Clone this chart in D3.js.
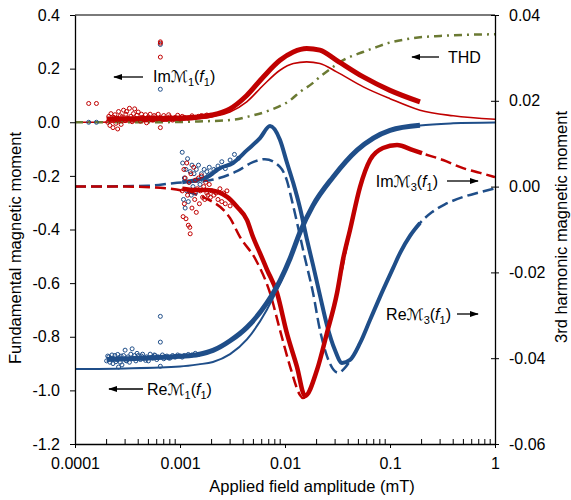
<!DOCTYPE html>
<html><head><meta charset="utf-8">
<script src="https://cdn.jsdelivr.net/npm/d3@7/dist/d3.min.js"></script>
<style>
body{margin:0;background:#fff}
text{font-family:"Liberation Sans",Arial,sans-serif;fill:#000}
</style></head>
<body><svg id="chart" width="571" height="500"></svg>
<script>
// ---------- tick labels ----------
const xTicks = [0.0001, 0.001, 0.01, 0.1, 1];
const xTickLabels = ["0.0001", "0.001", "0.01", "0.1", "1"];
const leftTicks = [0.4, 0.2, 0.0, -0.2, -0.4, -0.6, -0.8, -1.0, -1.2];
const leftTickLabels = ["0.4", "0.2", "0.0", "-0.2", "-0.4", "-0.6", "-0.8", "-1.0", "-1.2"];
const rightTicks = [0.04, 0.02, 0.0, -0.02, -0.04, -0.06];
const rightTickLabels = ["0.04", "0.02", "0.00", "-0.02", "-0.04", "-0.06"];

// ---------- fundamental (left axis) : [field mT, value] ----------
const imM1MeasScatter = [
 [0.000135,0.07],[0.00016,0.07],
 [0.000205,0.0],[0.00021,0.022],[0.000215,-0.012],[0.00022,0.032],[0.000225,0.008],[0.00023,-0.02],
 [0.000235,0.018],[0.00024,0.028],[0.000245,-0.004],[0.00025,0.015],[0.000255,-0.025],[0.00026,0.04],
 [0.000265,0.01],[0.00027,0.024],[0.000275,-0.008],[0.00028,0.02],[0.00029,0.045],[0.0003,0.006],
 [0.000305,0.03],[0.00031,0.04],[0.00032,0.014],[0.00033,0.052],[0.00034,0.022],[0.00035,0.002],
 [0.00036,0.032],[0.00037,0.05],[0.00038,0.012],[0.00039,0.026],[0.0004,0.038],[0.00042,0.004],
 [0.00043,0.03],[0.00044,0.018],[0.00046,0.014],[0.00047,0.028],[0.00048,-0.002],[0.0005,0.02],
 [0.00052,0.03],[0.00053,0.01],[0.00055,0.008],[0.00057,0.025],[0.00058,0.02],[0.0006,0.012],
 [0.00062,0.03],[0.00065,0.018],[0.00065,-0.02],[0.00065,0.3],[0.00065,0.295],[0.00065,0.243],
 [0.00068,0.01],[0.0007,0.025],[0.00072,0.016],[0.00075,0.012],[0.00078,0.028],[0.0008,0.02],
 [0.00085,0.008],[0.0009,0.018],[0.00095,0.026],[0.001,0.012],[0.00105,0.022],[0.0011,0.018],
 [0.0012,0.015],[0.0013,0.024],[0.0014,0.018],[0.0015,0.022],[0.0016,0.025],[0.0018,0.027]
];
const imM1Meas = [
 [0.0002,0.012],[0.0005,0.014],[0.001,0.016],[0.0015,0.02],[0.002,0.027],[0.00299,0.05],
 [0.00432,0.1],[0.00621,0.169],[0.00895,0.231],[0.012,0.262],[0.0161,0.275],[0.0215,0.269],
 [0.031,0.231],[0.0557,0.169],[0.1,0.119],[0.193,0.076]
];
const imM1Model = [
 [0.0001,0.0],[0.0005,0.003],[0.001,0.007],[0.002,0.02],[0.00299,0.038],[0.00432,0.076],
 [0.00621,0.138],[0.00895,0.194],[0.012,0.219],[0.0161,0.225],[0.0215,0.219],[0.031,0.188],
 [0.0557,0.132],[0.1,0.088],[0.193,0.045],[0.4,0.024],[1,0.011]
];
const reM1MeasScatter = [
 [0.000135,0.0],[0.00016,0.0],
 [0.0002,-0.89],[0.000205,-0.872],[0.00021,-0.875],[0.000215,-0.895],[0.00022,-0.88],[0.000225,-0.868],
 [0.00023,-0.9],[0.000235,-0.882],[0.00024,-0.87],[0.000245,-0.893],[0.00025,-0.885],[0.000255,-0.866],
 [0.00026,-0.913],[0.000265,-0.878],[0.00027,-0.895],[0.000275,-0.872],[0.00028,-0.905],[0.00029,-0.87],
 [0.0003,-0.85],[0.000305,-0.888],[0.00031,-0.89],[0.00032,-0.875],[0.00033,-0.895],[0.00034,-0.865],
 [0.00035,-0.845],[0.00036,-0.88],[0.00037,-0.87],[0.00038,-0.89],[0.00039,-0.862],[0.0004,-0.87],
 [0.00042,-0.885],[0.00043,-0.872],[0.00044,-0.865],[0.00046,-0.88],[0.00047,-0.888],[0.00048,-0.875],
 [0.0005,-0.89],[0.00052,-0.865],[0.00053,-0.878],[0.00055,-0.88],[0.00057,-0.868],[0.00058,-0.87],
 [0.0006,-0.885],[0.00062,-0.875],[0.00065,-0.91],[0.00065,0.29],[0.00065,0.123],[0.00065,-0.724],
 [0.00065,-0.82],[0.00068,-0.868],[0.0007,-0.882],[0.00072,-0.874],[0.00075,-0.872],[0.00078,-0.879],
 [0.0008,-0.88],[0.00085,-0.87],[0.0009,-0.876],[0.00095,-0.868],[0.001,-0.872],[0.00105,-0.876],
 [0.0011,-0.87],[0.0012,-0.866],[0.0013,-0.868],[0.0014,-0.862],[0.0015,-0.866]
];
const reM1Meas = [
 [0.0002,-0.885],[0.0005,-0.879],[0.001,-0.873],[0.0015,-0.866],[0.00206,-0.851],[0.003,-0.815],
 [0.00434,-0.765],[0.0067,-0.675],[0.009,-0.59],[0.0112,-0.507],[0.0139,-0.41],[0.0185,-0.31],
 [0.0286,-0.205],[0.0486,-0.104],[0.1,-0.03],[0.193,-0.011]
];
const reM1Model = [
 [0.0001,-0.92],[0.0003,-0.918],[0.001,-0.911],[0.0015,-0.903],[0.00206,-0.894],[0.003,-0.865],
 [0.00434,-0.81],[0.0067,-0.7],[0.009,-0.6],[0.0112,-0.512],[0.0139,-0.415],[0.0185,-0.315],
 [0.0286,-0.208],[0.0486,-0.106],[0.1,-0.032],[0.193,-0.012],[0.4,-0.004],[1,-0.001]
];
const thd = [
 [0.0001,0.0],[0.0005,0.0],[0.001,0.001],[0.0015,0.003],[0.00334,0.01],[0.00435,0.02],
 [0.0072,0.045],[0.0112,0.082],[0.0139,0.113],[0.0181,0.144],[0.0215,0.169],[0.0286,0.206],
 [0.0356,0.231],[0.0553,0.262],[0.0752,0.281],[0.0935,0.294],[0.145,0.31],[0.206,0.318],
 [0.3,0.322],[0.5,0.326],[1,0.328]
];

// ---------- 3rd harmonic (right axis) ----------
const imM3MeasScatter = [
 [0.00105,-0.001],[0.00107,-0.007],[0.00109,0.004],[0.0011,-0.004],[0.00112,0.002],[0.00114,-0.0075],
 [0.00116,0.0055],[0.00118,-0.002],[0.0012,-0.009],[0.00122,0.001],[0.00124,-0.0095],[0.00125,-0.011],
 [0.00127,0.003],[0.0013,-0.005],[0.00132,-0.001],[0.00135,0.0045],[0.00138,-0.003],[0.0014,0.0015],
 [0.00143,-0.006],[0.00146,-0.0005],[0.0015,0.002],[0.00153,-0.004],[0.00156,-0.001],[0.0016,0.0025],
 [0.00164,-0.0025],[0.00168,0.0],[0.00172,-0.003],[0.00176,0.001],[0.0018,-0.0015],[0.00185,-0.002],
 [0.0019,0.0005],[0.00195,-0.0025],[0.002,-0.001],[0.0021,-0.002],[0.0022,-0.0015],[0.0023,-0.003],
 [0.0024,-0.0005],[0.0025,-0.0035],[0.0026,-0.0015],[0.0027,-0.004],[0.0028,-0.001],[0.003,-0.0045]
];
const imM3Meas = [
 [0.00105,-0.0005],[0.0014,-0.0008],[0.00181,-0.0008],[0.00281,-0.0024],[0.00349,-0.0047],
 [0.00435,-0.0078],[0.00495,-0.0117],[0.00578,-0.0155],[0.00675,-0.0194],[0.0084,-0.0248],
 [0.0104,-0.0341],[0.013,-0.042],[0.0155,-0.0488],[0.0202,-0.0427],[0.0251,-0.0341],
 [0.0313,-0.0248],[0.0356,-0.0171],[0.0416,-0.0101],[0.0518,-0.0001],[0.0645,0.0062],
 [0.0857,0.009],[0.1167,0.0097],[0.1656,0.0085],[0.2018,0.0078]
];
const imM3Model = [
 [0.0001,0.0],[0.0003,0.0],[0.00073,-0.0004],[0.00206,-0.0036],[0.00299,-0.0073],[0.00372,-0.0117],
 [0.00528,-0.0171],[0.0072,-0.0248],[0.00895,-0.0334],[0.0112,-0.042],[0.0139,-0.0486],
 [0.0148,-0.0493],[0.0202,-0.0427],[0.0251,-0.0341],[0.0313,-0.0248],[0.0416,-0.0101],
 [0.0518,-0.0001],[0.0645,0.0062],[0.0857,0.009],[0.1167,0.0097],[0.1656,0.0085],[0.2,0.0078],
 [0.32,0.0062],[0.496,0.0043],[0.72,0.0032],[1,0.0022]
];
const reM3MeasScatter = [
 [0.00105,0.008],[0.00106,0.0055],[0.00108,-0.003],[0.0011,0.002],[0.00112,-0.005],[0.00114,0.004],
 [0.00116,-0.001],[0.00118,0.0065],[0.0012,-0.0035],[0.00122,0.001],[0.00125,0.0035],[0.00128,-0.002],
 [0.0013,0.005],[0.00133,0.0],[0.00136,0.003],[0.0014,-0.0015],[0.00143,0.004],[0.00147,0.0015],
 [0.0015,0.005],[0.00155,0.0005],[0.0016,0.003],[0.00165,0.0015],[0.0017,0.004],[0.00175,0.002],
 [0.0018,0.0035],[0.00185,0.0025],[0.0019,0.0045],[0.002,0.003],[0.0021,0.004],[0.0022,0.0038],
 [0.0023,0.0048],[0.0025,0.0058],[0.0027,0.0042],[0.003,0.0062],[0.0033,0.0075],[0.0036,0.0066]
];
const reM3Meas = [
 [0.00105,0.001],[0.0014,0.0015],[0.00181,0.0022],[0.0024,0.0043],[0.0032,0.0055],[0.00435,0.0085],
 [0.00578,0.0113],[0.0072,0.0141],[0.00895,0.0109],[0.0104,0.0057],[0.012,0.0008],[0.0139,-0.005],
 [0.0162,-0.0124],[0.0185,-0.0183],[0.0215,-0.0253],[0.0251,-0.0323],[0.0299,-0.0381],
 [0.0349,-0.0411],[0.0416,-0.0404],[0.0518,-0.0365],[0.0645,-0.0311],[0.0803,-0.0257],
 [0.107,-0.019],[0.1245,-0.0155],[0.155,-0.0115],[0.193,-0.0085]
];
const reM3Model = [
 [0.0001,0.0],[0.0005,0.0002],[0.00086,0.0008],[0.00193,0.0015],[0.00349,0.0036],[0.00495,0.0057],
 [0.00643,0.0064],[0.00895,0.0046],[0.0104,0.0015],[0.0116,-0.0031],[0.0155,-0.0167],
 [0.0185,-0.0248],[0.0215,-0.0334],[0.0251,-0.0395],[0.029,-0.0427],[0.0323,-0.0434],
 [0.037,-0.0423],[0.0432,-0.04],[0.0518,-0.0365],[0.0645,-0.0311],[0.0803,-0.0257],
 [0.107,-0.019],[0.1245,-0.0155],[0.155,-0.0115],[0.193,-0.0085],[0.25,-0.006],
 [0.33,-0.0042],[0.5,-0.0024],[0.72,-0.0013],[1,-0.0004]
];

// ---------- drawing ----------
const RED = "#C00000", BLUE = "#1F4E89", OLIVE = "#6B7A33";
const svg = d3.select("#chart");
const L = 75, R = 495, T = 15, B = 444;
const x = d3.scaleLog().domain([1e-4, 1]).range([L, R]);
const yL = d3.scaleLinear().domain([-1.2, 0.4]).range([B, T]);
const yR = d3.scaleLinear().domain([-0.06, 0.04]).range([B, T]);

svg.append("defs").append("marker").attr("id", "arr")
  .attr("viewBox", "0 0 10 10").attr("refX", 9).attr("refY", 5)
  .attr("markerWidth", 9).attr("markerHeight", 9).attr("markerUnits", "userSpaceOnUse")
  .attr("orient", "auto")
  .append("path").attr("d", "M0,1.5 L10,5 L0,8.5 z").attr("fill", "#000");

const plot = svg.append("g");
function line(y) {
  return d3.line().x(d => x(d[0])).y(d => y(d[1])).curve(d3.curveMonotoneX);
}
function drawLine(data, y, color, w, dash) {
  plot.append("path").datum(data).attr("d", line(y))
    .attr("fill", "none").attr("stroke", color).attr("stroke-width", w)
    .attr("stroke-dasharray", dash || null).attr("stroke-linecap", "butt");
}
function drawDots(data, y, color) {
  plot.append("g").selectAll("circle").data(data).join("circle")
    .attr("cx", d => x(d[0])).attr("cy", d => y(d[1])).attr("r", 2)
    .attr("fill", "none").attr("stroke", color).attr("stroke-width", 1);
}

// models
drawLine(reM3Model, yR, BLUE, 2.5, "11,5");
drawLine(imM3Model, yR, RED, 2.5, "11,5");
drawLine(reM1Model, yL, BLUE, 2);
drawLine(imM1Model, yL, RED, 1.6);
drawLine(thd, yL, OLIVE, 2.5, "8,5,2,5");

// measurements
drawLine(reM3Meas, yR, BLUE, 4);
drawDots(reM3MeasScatter, yR, BLUE);
drawLine(imM3Meas, yR, RED, 4.5);
drawDots(imM3MeasScatter, yR, RED);
drawLine(reM1Meas, yL, BLUE, 5);
drawDots(reM1MeasScatter, yL, BLUE);
drawLine(imM1Meas, yL, RED, 5);
drawDots(imM1MeasScatter, yL, RED);

// ---------- axes ----------
svg.append("line").attr("x1", L).attr("x2", R).attr("y1", T).attr("y2", T)
  .attr("stroke", "#7a7a7a").attr("stroke-width", 2);

const gl = svg.append("g").attr("transform", `translate(${L},0)`)
  .call(d3.axisLeft(yL).tickValues(leftTicks).tickFormat((d, i) => leftTickLabels[i])
    .tickSize(5).tickSizeOuter(0).tickPadding(10));
const gr = svg.append("g").attr("transform", `translate(${R},0)`)
  .call(d3.axisRight(yR).tickValues(rightTicks).tickFormat((d, i) => rightTickLabels[i])
    .tickSize(4).tickSizeOuter(0).tickPadding(10));
gr.selectAll(".tick line").attr("x1", -4);
const gb = svg.append("g").attr("transform", `translate(0,${B})`)
  .call(d3.axisBottom(x).tickValues(xTicks).tickFormat((d, i) => xTickLabels[i])
    .tickSize(4).tickSizeOuter(0).tickPadding(10));
const minor = x.ticks().filter(v => xTicks.indexOf(v) < 0 && v > 1e-4 && v < 1);
svg.append("g").selectAll("line").data(minor).join("line")
  .attr("x1", d => x(d)).attr("x2", d => x(d)).attr("y1", B).attr("y2", B - 5)
  .attr("stroke", "#000").attr("stroke-width", 1);

[gl, gr, gb].forEach(g => {
  g.selectAll("text").attr("font-size", 16).attr("font-family", '"Liberation Sans",Arial,sans-serif');
  g.selectAll("path.domain").attr("stroke", "#000").attr("stroke-width", 1.3);
  g.selectAll(".tick line").attr("stroke", "#000");
});

// axis titles
svg.append("text").attr("transform", "translate(21,248) rotate(-90)")
  .attr("text-anchor", "middle").attr("font-size", 16.5).text("Fundamental magnetic moment");
svg.append("text").attr("transform", "translate(567,227) rotate(-90)")
  .attr("text-anchor", "middle").attr("font-size", 16.5).text("3rd harmonic magnetic moment");
svg.append("text").attr("x", 312).attr("y", 492)
  .attr("text-anchor", "middle").attr("font-size", 16.5).text("Applied field amplitude (mT)");

// ---------- annotations ----------
function mLabel(tx, ty, prefix, sub, anchor) {
  const t = svg.append("text").attr("x", tx).attr("y", ty).attr("font-size", 16)
    .attr("text-anchor", anchor || "start");
  t.append("tspan").text(prefix);
  t.append("tspan").text("\u2133").attr("font-family", '"DejaVu Sans",sans-serif').attr("font-style", "italic");
  t.append("tspan").text(sub).attr("font-size", 11).attr("dy", 4);
  t.append("tspan").text("(").attr("dy", -4);
  t.append("tspan").text("f").attr("font-style", "italic");
  t.append("tspan").text("1").attr("font-size", 11).attr("dy", 4);
  t.append("tspan").text(")").attr("dy", -4);
}
function arrow(x1, y1, x2, y2) {
  svg.append("line").attr("x1", x1).attr("y1", y1).attr("x2", x2).attr("y2", y2)
    .attr("stroke", "#000").attr("stroke-width", 1.3).attr("marker-end", "url(#arr)");
}
mLabel(153, 82, "Im", "1");
arrow(143, 77, 114, 77);
svg.append("text").attr("x", 448).attr("y", 63).attr("font-size", 16).text("THD");
arrow(439, 57, 412, 57);
mLabel(438, 187, "Im", "3", "end");
arrow(447, 181, 478, 181);
mLabel(451, 320, "Re", "3", "end");
arrow(457, 314, 478, 314);
mLabel(147, 395, "Re", "1");
arrow(143, 389, 109, 389);
</script></body></html>
